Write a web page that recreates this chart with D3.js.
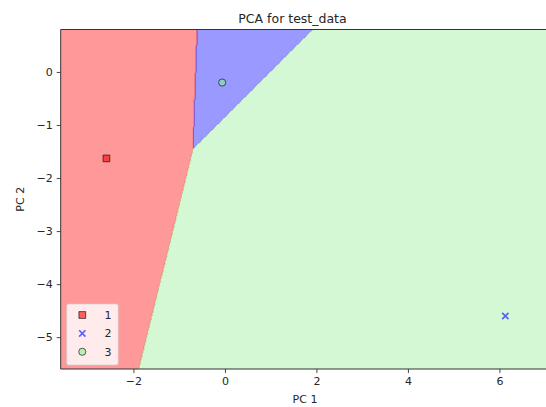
<!DOCTYPE html>
<html>
<head>
<meta charset="utf-8">
<script src="https://cdn.jsdelivr.net/npm/d3@7"></script>
<style>
  body { margin: 0; background: #fff; }
  svg { display: block; }
  text { font-family: "DejaVu Sans", sans-serif; fill: #262626; }
</style>
</head>
<body>
<svg id="chart" width="546" height="407"></svg>
<script>
// Test samples projected onto the first two principal components
const classLabels = [1, 2, 3];
const pc1 = [-2.59, 6.13, -0.06];
const pc2 = [-1.63, -4.60, -0.20];

// Linear classifier on (PC 1, PC 2): one score per class, prediction = argmax
const coefPC1 = [-10.17, -2.24, 0];
const coefPC2 = [2.91, 2.60, 0];
const intercept = [-2.86, 2.21, 0];

const xTicks = [-2, 0, 2, 4, 6];
const yTicks = [0, -1, -2, -3, -4, -5];

const classColors = ["red", "blue", "lightgreen"];
const markerTypes = ["square", "times", "circle"];

const svg = d3.select("#chart");
const margin = { left: 60.7, top: 29.5, bottom: 38 };
const plotW = 490.4;
const plotH = 407 - margin.top - margin.bottom;

// Axis limits: one unit beyond the extreme samples, as for a decision-region mesh
const xMin = d3.min(pc1) - 1, xMax = d3.max(pc1) + 1;
const yMin = d3.min(pc2) - 1, yMax = d3.max(pc2) + 1;

const x = d3.scaleLinear().domain([xMin, xMax]).range([margin.left, margin.left + plotW]);
const y = d3.scaleLinear().domain([yMin, yMax]).range([margin.top + plotH, margin.top]);

svg.append("defs").append("clipPath").attr("id", "plot-clip")
  .append("rect")
  .attr("x", margin.left).attr("y", margin.top)
  .attr("width", plotW).attr("height", plotH);

// Predicted class over a fine mesh
const res = 0.02;
const gx0 = xMin - 0.1, gx1 = xMax + 0.1;
const gy0 = yMin - 0.1, gy1 = yMax + 0.1;
const nx = Math.ceil((gx1 - gx0) / res);
const ny = Math.ceil((gy1 - gy0) / res);

function predict(px, py) {
  let best = 0, bestScore = -Infinity;
  for (let k = 0; k < classLabels.length; k++) {
    const s = coefPC1[k] * px + coefPC2[k] * py + intercept[k];
    if (s > bestScore) { bestScore = s; best = k; }
  }
  return best;
}

const predicted = new Uint8Array(nx * ny);
for (let j = 0; j < ny; j++) {
  const py = gy1 - (j + 0.5) * res;
  for (let i = 0; i < nx; i++) {
    predicted[j * nx + i] = predict(gx0 + (i + 0.5) * res, py);
  }
}

const meshProjection = d3.geoTransform({
  point(u, v) { this.stream.point(x(gx0 + u * res), y(gy1 - v * res)); }
});
const meshPath = d3.geoPath(meshProjection);
const contours = d3.contours().size([nx, ny]).thresholds([0.5]);

const regions = svg.append("g").attr("clip-path", "url(#plot-clip)");
classLabels.forEach((lab, k) => {
  const mask = Array.from(predicted, v => (v === k ? 1 : 0));
  const [shape] = contours(mask);
  regions.append("path")
    .attr("d", meshPath(shape))
    .attr("fill", classColors[k])
    .attr("fill-opacity", 0.4)
    .attr("stroke", classColors[k])
    .attr("stroke-opacity", 0.4)
    .attr("stroke-width", 0.8);
});

// Axes
const intFmt = d3.format("d");
const xAxis = d3.axisBottom(x).tickValues(xTicks).tickFormat(intFmt)
  .tickSize(4).tickSizeOuter(0).tickPadding(4);
const yAxis = d3.axisLeft(y).tickValues(yTicks).tickFormat(intFmt)
  .tickSize(4).tickSizeOuter(0).tickPadding(4);

const gx = svg.append("g").attr("transform", `translate(0,${margin.top + plotH})`).call(xAxis);
const gy = svg.append("g").attr("transform", `translate(${margin.left},0)`).call(yAxis);
[gx, gy].forEach(g => {
  g.select(".domain").remove();
  g.selectAll(".tick line").attr("stroke", "#333").attr("stroke-width", 0.9);
  g.selectAll(".tick text").attr("font-size", 11).attr("fill", "#262626")
    .style("font-family", '"DejaVu Sans", sans-serif');
});

// Spines (right edge lies beyond the canvas)
const spines = svg.append("g").attr("stroke", "#333").attr("stroke-width", 1).attr("fill", "none");
spines.append("line").attr("x1", margin.left).attr("x2", margin.left)
  .attr("y1", margin.top).attr("y2", margin.top + plotH);
spines.append("line").attr("x1", margin.left).attr("x2", margin.left + plotW)
  .attr("y1", margin.top + plotH).attr("y2", margin.top + plotH);
spines.append("line").attr("x1", margin.left).attr("x2", margin.left + plotW)
  .attr("y1", margin.top).attr("y2", margin.top);

// Marker drawing
function drawMarker(g, type, color, size) {
  if (type === "times") {
    g.append("path")
      .attr("d", d3.symbol(d3.symbolTimes || d3.symbolX, size * 0.6)())
      .attr("fill", "none")
      .attr("stroke", color)
      .attr("stroke-opacity", 0.6)
      .attr("stroke-width", 1.7);
  } else {
    const sym = type === "square" ? d3.symbolSquare : d3.symbolCircle;
    g.append("path")
      .attr("d", d3.symbol(sym, size)())
      .attr("fill", color)
      .attr("fill-opacity", 0.6)
      .attr("stroke", "black")
      .attr("stroke-opacity", 0.6)
      .attr("stroke-width", 1);
  }
}

const points = svg.append("g").attr("clip-path", "url(#plot-clip)");
classLabels.forEach((lab, k) => {
  const g = points.append("g").attr("transform", `translate(${x(pc1[k])},${y(pc2[k])})`);
  drawMarker(g, markerTypes[k], classColors[k], markerTypes[k] === "circle" ? 40 : 46);
});

// Title and axis labels
svg.append("text").attr("x", 292.5).attr("y", 22.5).attr("text-anchor", "middle")
  .attr("font-size", 12.5).text("PCA for test_data");
svg.append("text").attr("x", 305).attr("y", 403).attr("text-anchor", "middle")
  .attr("font-size", 11).text("PC 1");
svg.append("text").attr("transform", `translate(24,${margin.top + plotH / 2}) rotate(-90)`)
  .attr("text-anchor", "middle").attr("font-size", 11).text("PC 2");

// Legend
const legend = svg.append("g");
legend.append("rect")
  .attr("x", 66.7).attr("y", 304).attr("width", 51.5).attr("height", 61).attr("rx", 2)
  .attr("fill", "white").attr("fill-opacity", 0.8)
  .attr("stroke", "#cccccc").attr("stroke-opacity", 0.8).attr("stroke-width", 0.8);
classLabels.forEach((lab, k) => {
  const rowY = 315 + k * 18.4;
  const g = legend.append("g").attr("transform", `translate(82.3,${rowY})`);
  drawMarker(g, markerTypes[k], classColors[k], markerTypes[k] === "circle" ? 40 : 46);
  legend.append("text").attr("x", 104.5).attr("y", rowY).attr("dy", "0.36em")
    .attr("font-size", 11).text(lab);
});
</script>
</body>
</html>
